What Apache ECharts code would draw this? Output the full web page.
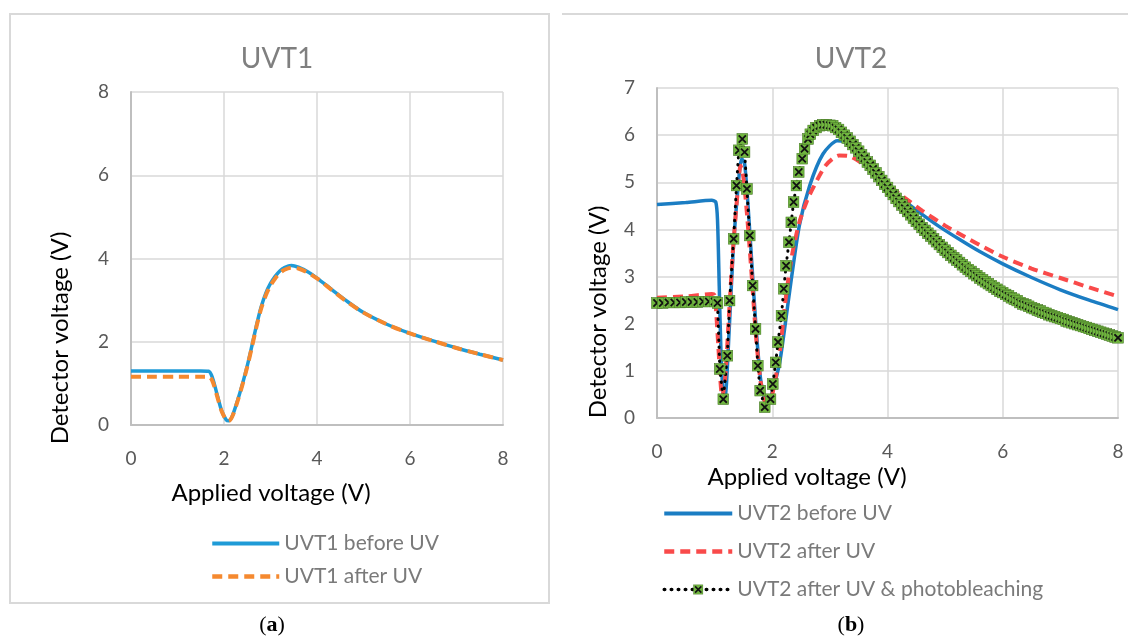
<!DOCTYPE html>
<html>
<head>
<meta charset="utf-8">
<script src="https://cdn.jsdelivr.net/npm/echarts@6/dist/echarts.min.js"></script>
<style>
  html, body { margin: 0; padding: 0; background: #fff; }
  #main { width: 1128px; height: 639px; }
</style>
</head>
<body>
<div id="main"></div>
<script>
// UVT1 (panel a), [applied V, detector V]
var uvt1Before = [
  [0, 1.3], [0.5, 1.3], [1.0, 1.3], [1.5, 1.3], [1.67, 1.29], [1.75, 1.14], [1.85, 0.74],
  [1.95, 0.34], [2.05, 0.12], [2.1, 0.1], [2.18, 0.22], [2.3, 0.62], [2.4, 1.0], [2.5, 1.42],
  [2.6, 1.9], [2.7, 2.4], [2.8, 2.84], [2.9, 3.17], [3.0, 3.4], [3.1, 3.57], [3.2, 3.7],
  [3.3, 3.78], [3.45, 3.83], [3.6, 3.79], [3.8, 3.68], [4.0, 3.53], [4.3, 3.27], [4.6, 3.01],
  [5.0, 2.7], [5.5, 2.42], [6.0, 2.2], [6.5, 2.02], [7.0, 1.85], [7.5, 1.7], [8.0, 1.56]
];
var uvt1After = [
  [0, 1.16], [0.5, 1.16], [1.0, 1.16], [1.5, 1.16], [1.67, 1.16], [1.75, 1.06], [1.85, 0.7],
  [1.95, 0.33], [2.05, 0.12], [2.1, 0.1], [2.18, 0.21], [2.3, 0.6], [2.4, 0.98], [2.5, 1.4],
  [2.6, 1.87], [2.7, 2.37], [2.8, 2.8], [2.9, 3.12], [3.0, 3.35], [3.1, 3.52], [3.2, 3.65],
  [3.3, 3.73], [3.45, 3.78], [3.6, 3.76], [3.8, 3.66], [4.0, 3.52], [4.3, 3.26], [4.6, 3.0],
  [5.0, 2.7], [5.5, 2.42], [6.0, 2.2], [6.5, 2.02], [7.0, 1.85], [7.5, 1.7], [8.0, 1.56]
];

// UVT2 (panel b)
var uvt2Before = [
  [0, 4.53], [0.5, 4.57], [0.95, 4.62], [1.02, 4.58], [1.05, 4.2], [1.08, 2.8], [1.11, 1.4],
  [1.15, 0.5], [1.18, 0.45], [1.25, 1.8], [1.32, 3.5], [1.4, 4.8], [1.47, 5.5], [1.52, 5.4],
  [1.58, 4.5], [1.65, 3.2], [1.72, 1.9], [1.8, 0.8], [1.88, 0.35], [1.93, 0.3], [2.0, 0.55],
  [2.13, 1.18], [2.3, 2.67], [2.47, 4.08], [2.65, 4.93], [2.88, 5.6], [3.13, 5.88], [3.25, 5.86],
  [3.4, 5.72], [3.62, 5.45], [3.86, 5.1], [4.0, 4.9], [4.3, 4.6], [4.6, 4.32], [4.9, 4.06],
  [5.26, 3.78], [5.6, 3.53], [6.0, 3.27], [6.5, 2.98], [7.0, 2.72], [7.5, 2.5], [8.0, 2.3]
];
var uvt2After = [
  [0, 2.55], [0.5, 2.58], [0.95, 2.63], [1.0, 2.6], [1.05, 1.8], [1.1, 0.8], [1.13, 0.45],
  [1.18, 0.8], [1.25, 2.2], [1.32, 3.6], [1.4, 4.8], [1.45, 5.35], [1.5, 5.1], [1.57, 4.2],
  [1.65, 2.9], [1.72, 1.7], [1.8, 0.75], [1.87, 0.35], [1.93, 0.3], [2.0, 0.5], [2.12, 1.3],
  [2.24, 2.6], [2.35, 3.5], [2.47, 4.15], [2.6, 4.6], [2.7, 4.86], [2.93, 5.36], [3.16, 5.57],
  [3.35, 5.55], [3.5, 5.45], [3.8, 5.18], [4.0, 4.96], [4.3, 4.67], [4.6, 4.4], [5.0, 4.08],
  [5.26, 3.9], [5.6, 3.67], [6.0, 3.42], [6.5, 3.17], [7.0, 2.97], [7.5, 2.77], [8.0, 2.58]
];
var uvt2Bleached = [
  [0, 2.44], [0.1, 2.44], [0.2, 2.45], [0.3, 2.45], [0.4, 2.45], [0.5, 2.46], [0.6, 2.46],
  [0.7, 2.46], [0.8, 2.47], [0.9, 2.47], [1.0, 2.47], [1.05, 2.44],
  [1.09, 1.04], [1.15, 0.4], [1.22, 1.32], [1.26, 2.49], [1.33, 3.8], [1.38, 4.93], [1.42, 5.68],
  [1.48, 5.92], [1.52, 5.64], [1.56, 4.86], [1.61, 3.87], [1.66, 2.81], [1.71, 1.89], [1.75, 1.11],
  [1.79, 0.58], [1.87, 0.23], [1.97, 0.4], [2.01, 0.72], [2.06, 1.18], [2.1, 1.61], [2.16, 2.17],
  [2.2, 2.74], [2.24, 3.23], [2.29, 3.73], [2.33, 4.15], [2.37, 4.58], [2.42, 4.93], [2.46, 5.22],
  [2.52, 5.5], [2.56, 5.71], [2.62, 5.92], [2.66, 6.02], [2.71, 6.1], [2.76, 6.16], [2.82, 6.2],
  [2.88, 6.22], [2.94, 6.22], [3.0, 6.21], [3.05, 6.2], [3.1, 6.16],
  [3.15, 6.12], [3.2, 6.06], [3.25, 6.0], [3.3, 5.94], [3.35, 5.87], [3.4, 5.8], [3.45, 5.73],
  [3.5, 5.66], [3.55, 5.58], [3.6, 5.51], [3.65, 5.43], [3.7, 5.36], [3.75, 5.28], [3.8, 5.2],
  [3.85, 5.12], [3.9, 5.04], [3.95, 4.96], [4.0, 4.89], [4.05, 4.81], [4.1, 4.74], [4.15, 4.66],
  [4.2, 4.59], [4.25, 4.52], [4.3, 4.45], [4.35, 4.38], [4.4, 4.31], [4.45, 4.24], [4.5, 4.17],
  [4.55, 4.11], [4.6, 4.04], [4.65, 3.98], [4.7, 3.92], [4.75, 3.86], [4.8, 3.8], [4.85, 3.74],
  [4.9, 3.68], [4.95, 3.62], [5.0, 3.56], [5.05, 3.51], [5.1, 3.45], [5.15, 3.4], [5.2, 3.35],
  [5.25, 3.3], [5.3, 3.25], [5.35, 3.2], [5.4, 3.15], [5.45, 3.11], [5.5, 3.06], [5.55, 3.02],
  [5.6, 2.97], [5.65, 2.93], [5.7, 2.89], [5.75, 2.85], [5.8, 2.81], [5.85, 2.77], [5.9, 2.73],
  [5.95, 2.69], [6.0, 2.66], [6.05, 2.62], [6.1, 2.59], [6.15, 2.55], [6.2, 2.52], [6.25, 2.49],
  [6.3, 2.45], [6.35, 2.42], [6.4, 2.4], [6.45, 2.37], [6.5, 2.34], [6.55, 2.32], [6.6, 2.29],
  [6.65, 2.27], [6.7, 2.24], [6.75, 2.22], [6.8, 2.19], [6.85, 2.17], [6.9, 2.15], [6.95, 2.13],
  [7.0, 2.11], [7.05, 2.09], [7.1, 2.06], [7.15, 2.04], [7.2, 2.02], [7.25, 2.0], [7.3, 1.98],
  [7.35, 1.96], [7.4, 1.94], [7.45, 1.92], [7.5, 1.9], [7.55, 1.88], [7.6, 1.86], [7.65, 1.84],
  [7.7, 1.82], [7.75, 1.8], [7.8, 1.78], [7.85, 1.76], [7.9, 1.74], [7.95, 1.72], [8.0, 1.7]
];

var FONT = 'Lato, "Open Sans", sans-serif';
var gridColor = '#d9d9d9';
var labelColor = '#595959';

// green square with a black cross, like the excel marker
var markerSvg = "<svg xmlns='http://www.w3.org/2000/svg' width='20' height='20'>" +
  "<rect x='1' y='1' width='18' height='18' fill='%2370b53f' stroke='%234a7a2a' stroke-width='1'/>" +
  "<path d='M4 4L16 16M16 4L4 16' stroke='%23111' stroke-width='3'/></svg>";
var markerSym = 'image://data:image/svg+xml;utf8,' + markerSvg;

var myChart = echarts.init(document.getElementById('main'), null, { renderer: 'canvas' });

function valueAxis(gridIndex, max, interval, margin) {
  return {
    type: 'value',
    gridIndex: gridIndex,
    min: 0,
    max: max,
    interval: interval,
    axisTick: { show: false },
    axisLine: { show: true, onZero: false, lineStyle: { color: '#bfbfbf', width: 2 } },
    axisLabel: { color: labelColor, fontSize: 19, fontFamily: FONT, margin: margin },
    splitLine: { show: true, lineStyle: { color: gridColor, width: 1.5 } }
  };
}

function txt(x, y, text, size, color, rot) {
  return {
    type: 'text', x: x, y: y, rotation: rot || 0,
    style: { text: text, font: size + 'px ' + FONT, fill: color, align: 'center', verticalAlign: 'middle' }
  };
}

function caption(x, letter) {
  return {
    type: 'text', x: x, y: 625,
    style: {
      text: '{p|(}{b|' + letter + '}{p|)}', align: 'center', verticalAlign: 'middle',
      rich: {
        p: { font: '22px "Liberation Serif", serif', fill: '#000' },
        b: { font: 'bold 22px "Liberation Serif", serif', fill: '#000' }
      }
    }
  };
}

var noDot = { opacity: 0 };

var option = {
  animation: false,
  backgroundColor: '#fff',
  grid: [
    { left: 131, top: 92, width: 372, height: 333 },
    { left: 657, top: 88, width: 461, height: 330 }
  ],
  xAxis: [valueAxis(0, 8, 2, 24), valueAxis(1, 8, 2, 24)],
  yAxis: [valueAxis(0, 8, 2, 22), valueAxis(1, 7, 1, 22)],
  legend: [
    {
      orient: 'vertical', left: 205, top: 528, itemWidth: 67, itemHeight: 13, itemGap: 12,
      textStyle: { color: '#7a7a7a', fontSize: 21, fontFamily: FONT },
      data: [
        { name: 'UVT1 before UV', itemStyle: noDot, lineStyle: { width: 4 } },
        { name: 'UVT1 after UV', itemStyle: noDot, lineStyle: { width: 4.5 } }
      ]
    },
    {
      orient: 'vertical', left: 657, top: 498, itemWidth: 68, itemHeight: 13, itemGap: 17,
      textStyle: { color: '#7a7a7a', fontSize: 21, fontFamily: FONT },
      data: [
        { name: 'UVT2 before UV', itemStyle: noDot, lineStyle: { width: 4 } },
        { name: 'UVT2 after UV', itemStyle: noDot, lineStyle: { width: 4.5 } },
        { name: 'UVT2 after UV & photobleaching', lineStyle: { width: 3.5 } }
      ]
    }
  ],
  graphic: [
    { type: 'rect', shape: { x: 10, y: 14, width: 539, height: 589 },
      style: { fill: 'none', stroke: '#d9d9d9', lineWidth: 2 }, silent: true },
    { type: 'line', shape: { x1: 562, y1: 14, x2: 1128, y2: 14 },
      style: { stroke: '#d9d9d9', lineWidth: 2 }, silent: true },
    txt(277, 59, 'UVT1', 28, '#7f7f7f'),
    txt(851, 59, 'UVT2', 28, '#7f7f7f'),
    txt(271, 493, 'Applied voltage (V)', 24, '#000'),
    txt(807, 477, 'Applied voltage (V)', 24, '#000'),
    txt(60, 338, 'Detector voltage (V)', 24, '#000', Math.PI / 2),
    txt(598, 312, 'Detector voltage (V)', 24, '#000', Math.PI / 2),
    caption(272, 'a'),
    caption(851, 'b')
  ],
  series: [
    {
      name: 'UVT1 before UV', type: 'line', xAxisIndex: 0, yAxisIndex: 0,
      data: uvt1Before, symbol: 'none', smooth: 0.3,
      lineStyle: { color: '#1f9bd7', width: 3.5 }, itemStyle: { color: '#1f9bd7' }
    },
    {
      name: 'UVT1 after UV', type: 'line', xAxisIndex: 0, yAxisIndex: 0,
      data: uvt1After, symbol: 'none', smooth: 0.3,
      lineStyle: { color: '#f5892f', width: 4, type: [10, 6] }, itemStyle: { color: '#f5892f' }
    },
    {
      name: 'UVT2 before UV', type: 'line', xAxisIndex: 1, yAxisIndex: 1,
      data: uvt2Before, symbol: 'none', smooth: 0.25,
      lineStyle: { color: '#1b7dc3', width: 3.5 }, itemStyle: { color: '#1b7dc3' }
    },
    {
      name: 'UVT2 after UV', type: 'line', xAxisIndex: 1, yAxisIndex: 1,
      data: uvt2After, symbol: 'none', smooth: 0.25,
      lineStyle: { color: '#f94a4a', width: 4, type: [10, 6] }, itemStyle: { color: '#f94a4a' }
    },
    {
      name: 'UVT2 after UV & photobleaching', type: 'line', xAxisIndex: 1, yAxisIndex: 1,
      data: uvt2Bleached, symbol: markerSym, symbolSize: 12, showAllSymbol: true,
      lineStyle: { color: '#000', width: 3, type: [0.5, 6.5], cap: 'round' },
      itemStyle: { color: '#70b53f' }
    }
  ]
};
myChart.setOption(option);
</script>
</body>
</html>
